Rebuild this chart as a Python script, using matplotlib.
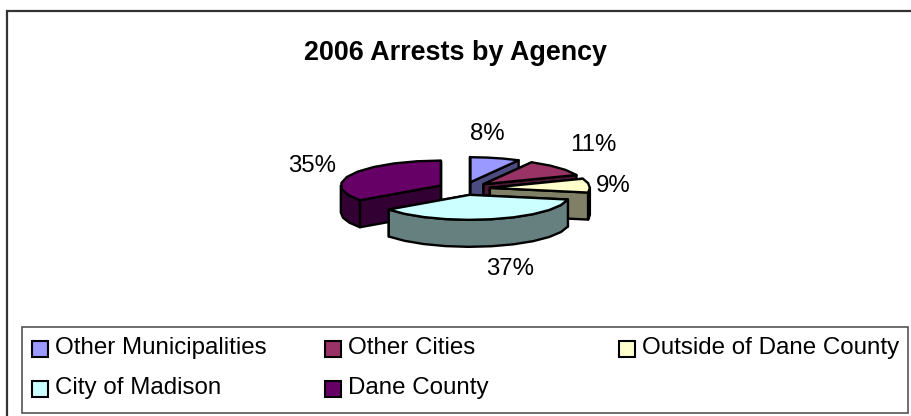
"""2006 arrests by agency, exploded 3D style pie."""
import numpy as np
import matplotlib
matplotlib.use("Agg")
import matplotlib.pyplot as plt
from matplotlib.patches import Polygon, Rectangle

# ==========================================
# DATA
# ==========================================
TITLE = "2006 Arrests by Agency"
agencies = ["Other Municipalities", "Other Cities", "Outside of Dane County",
            "City of Madison", "Dane County"]
shares = [8, 11, 9, 37, 35]
top_colors = ["#9999FF", "#993366", "#FFFFCC", "#CCFFFF", "#660066"]
side_colors = ["#4C4C80", "#4C1933", "#808066", "#668080", "#330033"]

# ==========================================
# LAYOUT (pixels)
# ==========================================
CX, CY = 464, 188.5    # pie centre
RX, RY = 100, 25       # squashed radius
EXPLODE = 0.26         # radial offset per slice
DEPTH = 27             # height of the slice walls
ANGLE_STEP = 14        # rim drawn as short straight segments, like the original
EDGE_LW = 1.7

DRAW_ORDER = [4, 0, 1, 2, 3]  # back to front
LABEL_POS = [(487, 134), (593, 145), (613, 186), (510, 269), (312, 166)]
LEGEND_POS = [(32, 349), (325, 349), (619, 349), (32, 389), (325, 389)]

plt.rcParams["font.family"] = ["Liberation Sans", "DejaVu Sans"]

fig = plt.figure(figsize=(9.12, 4.16), dpi=100)
ax = fig.add_axes([0, 0, 1, 1])
ax.set_xlim(0, 912)
ax.set_ylim(416, 0)
ax.axis("off")


def rim_point(angle, apex):
    """Angle in degrees, clockwise from 12 o'clock."""
    rad = np.radians(angle)
    return apex[0] + RX * np.sin(rad), apex[1] - RY * np.cos(rad)


def arc_points(start, end, apex):
    steps = max(int(np.ceil((end - start) / ANGLE_STEP)), 1)
    return [rim_point(a, apex) for a in np.linspace(start, end, steps + 1)]


def draw_slice(start, end, top, side):
    mid = np.radians((start + end) / 2)
    apex = (CX + EXPLODE * RX * np.sin(mid), CY - EXPLODE * RY * np.cos(mid))

    # Cut faces, further one first
    faces = []
    for angle in (start, end):
        edge = [apex, rim_point(angle, apex)]
        faces.append(edge + [(x, y + DEPTH) for x, y in edge[::-1]])
    faces.sort(key=lambda f: np.mean([p[1] for p in f]))
    for face in faces:
        ax.add_patch(Polygon(face, fc=side, ec="black", lw=EDGE_LW, joinstyle="round"))

    # Outer wall, only the part facing the viewer
    wall_start, wall_end = max(start, 90), min(end, 270)
    if wall_end > wall_start:
        arc = arc_points(wall_start, wall_end, apex)
        wall = arc + [(x, y + DEPTH) for x, y in arc[::-1]]
        ax.add_patch(Polygon(wall, fc=side, ec="black", lw=EDGE_LW, joinstyle="round"))

    ax.add_patch(Polygon([apex] + arc_points(start, end, apex), fc=top, ec="black",
                         lw=EDGE_LW, joinstyle="round"))


edges = np.cumsum([0] + shares) / sum(shares) * 360
for i in DRAW_ORDER:
    draw_slice(edges[i], edges[i + 1], top_colors[i], side_colors[i])

# Percent labels
for share, (x, y) in zip(shares, LABEL_POS):
    ax.text(x, y, f"{share}%", fontsize=17.3, ha="center", va="center", color="black")

ax.text(456, 53, TITLE, fontsize=19.4, fontweight="bold", ha="center", va="center")

# Chart border, runs off the right and bottom of the image
ax.plot([7.5, 7.5, 912], [416, 10.5, 10.5], color="#333333", lw=1.6, solid_joinstyle="miter")

# Legend
ax.add_patch(Rectangle((22, 327), 886, 86, fc="white", ec="#555555", lw=1.2))
for name, color, (x, y) in zip(agencies, top_colors, LEGEND_POS):
    ax.add_patch(Rectangle((x, y - 8), 16, 16, fc=color, ec="black", lw=1.5))
    ax.text(x + 23, y - 1, name, fontsize=17.4, ha="left", va="center", color="black")

fig.savefig("out.png", dpi=100)
